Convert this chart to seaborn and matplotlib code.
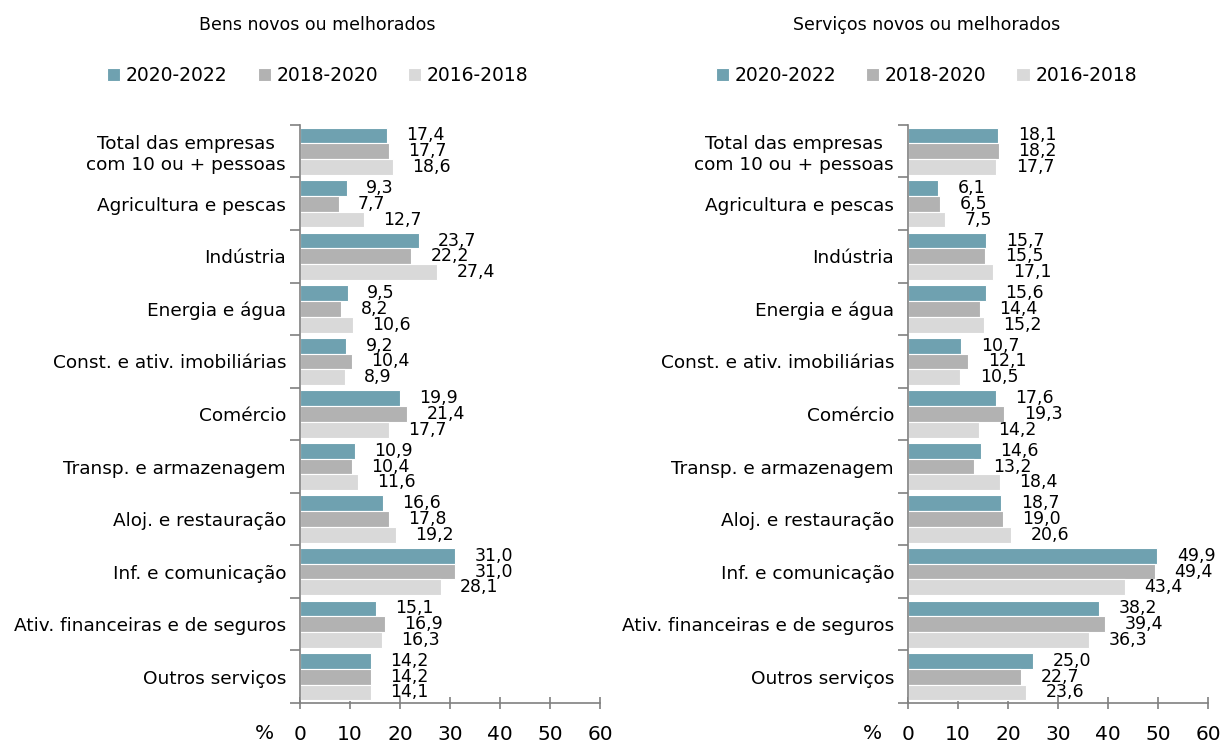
import pandas as pd
import matplotlib
matplotlib.use("Agg")
import matplotlib.pyplot as plt
import seaborn as sns

sectors = ["Total das empresas\ncom 10 ou + pessoas", "Agricultura e pescas", "Indústria",
           "Energia e água", "Const. e ativ. imobiliárias", "Comércio",
           "Transp. e armazenagem", "Aloj. e restauração", "Inf. e comunicação",
           "Ativ. financeiras e de seguros", "Outros serviços"]
periods = ["2020-2022", "2018-2020", "2016-2018"]

bens_2020 = [17.4, 9.3, 23.7, 9.5, 9.2, 19.9, 10.9, 16.6, 31.0, 15.1, 14.2]
bens_2018 = [17.7, 7.7, 22.2, 8.2, 10.4, 21.4, 10.4, 17.8, 31.0, 16.9, 14.2]
bens_2016 = [18.6, 12.7, 27.4, 10.6, 8.9, 17.7, 11.6, 19.2, 28.1, 16.3, 14.1]

serv_2020 = [18.1, 6.1, 15.7, 15.6, 10.7, 17.6, 14.6, 18.7, 49.9, 38.2, 25.0]
serv_2018 = [18.2, 6.5, 15.5, 14.4, 12.1, 19.3, 13.2, 19.0, 49.4, 39.4, 22.7]
serv_2016 = [17.7, 7.5, 17.1, 15.2, 10.5, 14.2, 18.4, 20.6, 43.4, 36.3, 23.6]

titles = ["Bens novos ou melhorados", "Serviços novos ou melhorados"]
colors = ["#6fa1b0", "#b2b2b2", "#d9d9d9"]


def long_form(a, b, c):
    rows = []
    for p, vals in zip(periods, [a, b, c]):
        for s, v in zip(sectors, vals):
            rows.append({"setor": s, "periodo": p, "valor": v})
    return pd.DataFrame(rows)


panels = [long_form(bens_2020, bens_2018, bens_2016),
          long_form(serv_2020, serv_2018, serv_2016)]

sns.set_style("white")
plt.rcParams["font.family"] = ["DejaVu Sans"]
plt.rcParams["text.color"] = "black"
plt.rcParams["xtick.labelcolor"] = "black"
plt.rcParams["ytick.labelcolor"] = "black"

fig = plt.figure(figsize=(12.22, 7.42), dpi=100)
axes = [fig.add_axes([0.2455, 0.0526, 0.2455, 0.779]),
        fig.add_axes([0.743, 0.0526, 0.2455, 0.779])]
title_x = [0.26, 0.758]

for ax, df, title, tx in zip(axes, panels, titles, title_x):
    sns.barplot(data=df, y="setor", x="valor", hue="periodo", hue_order=periods,
                palette=colors, orient="h", width=0.9, ax=ax,
                edgecolor="white", linewidth=0.8, saturation=1)
    for cont in ax.containers:
        labs = [f"{b.get_width():.1f}".replace(".", ",") for b in cont]
        ax.bar_label(cont, labels=labs, padding=14, fontsize=12.5)
    ax.set_xlim(0, 60)
    ax.set_ylim(10.5, -0.5)
    ax.set_xticks(range(0, 61, 10))
    ax.set_xlabel("")
    ax.set_ylabel("")
    ax.set_yticks(range(len(sectors)))
    ax.set_yticklabels(sectors, fontsize=13.3)
    for t in ax.get_yticklabels():
        t.set_multialignment("center")
    ax.set_yticks([i - 0.5 for i in range(len(sectors) + 1)], minor=True)
    ax.tick_params(axis="y", which="major", left=True, length=0, pad=10)
    ax.tick_params(axis="y", which="minor", left=True, length=7,
                   color="#808080", width=1.2)
    ax.tick_params(axis="x", bottom=True, length=8, direction="inout",
                   color="#808080", width=1.2, labelsize=14.5, pad=12)
    for side in ["top", "right"]:
        ax.spines[side].set_visible(False)
    for side in ["left", "bottom"]:
        ax.spines[side].set_color("#808080")
        ax.spines[side].set_linewidth(1.2)
    ax.text(-0.117, -0.052, "%", transform=ax.transAxes, fontsize=14.5,
            ha="center", va="center")
    handles, labels = ax.get_legend_handles_labels()
    ax.legend(handles, labels, ncol=3, frameon=False, fontsize=13.5,
              loc="center", bbox_to_anchor=(tx, 0.898), bbox_transform=fig.transFigure,
              handlelength=0.7, handleheight=0.7, handletextpad=0.3, columnspacing=1.6)
    fig.text(tx, 0.966, title, ha="center", va="center", fontsize=12.5)

fig.savefig("out.png", dpi=100)
